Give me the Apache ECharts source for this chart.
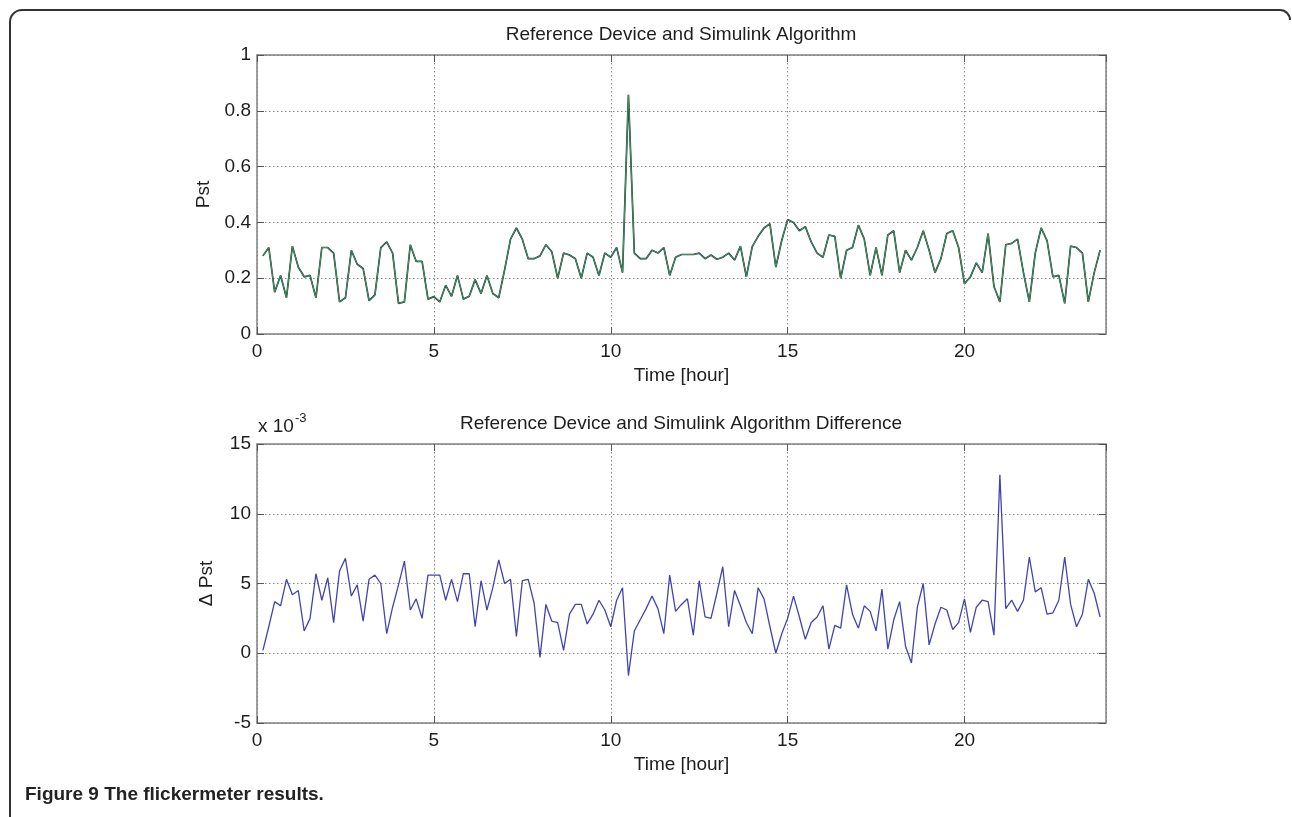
<!DOCTYPE html>
<html>
<head>
<meta charset="utf-8">
<title>The flickermeter results</title>
<script src="https://cdn.jsdelivr.net/npm/echarts@6/dist/echarts.min.js"></script>
<style>
  html, body { margin: 0; padding: 0; background: #fff; }
  #chart { width: 1292px; height: 817px; }
</style>
</head>
<body>
<div id="chart"></div>
<script>
// one sample every 10 minutes, first one at 0:10
const sampleHours = 1 / 6

// Pst over the day (reference device / simulink algorithm overlap at this scale)
const pstValues = [
    0.28, 0.31, 0.15, 0.21, 0.13, 0.315, 0.24, 0.205, 0.21, 0.13,
    0.31, 0.31, 0.29, 0.115, 0.13, 0.30, 0.25, 0.235, 0.12, 0.14,
    0.31, 0.33, 0.29, 0.11, 0.115, 0.32, 0.26, 0.26, 0.125, 0.134,
    0.115, 0.175, 0.135, 0.21, 0.125, 0.135, 0.195, 0.145, 0.21, 0.145,
    0.13, 0.23, 0.34, 0.38, 0.34, 0.27, 0.27, 0.28, 0.32, 0.295,
    0.20, 0.29, 0.283, 0.27, 0.20, 0.29, 0.275, 0.21, 0.29, 0.275,
    0.31, 0.22, 0.857, 0.29, 0.27, 0.27, 0.30, 0.29, 0.31, 0.21,
    0.275, 0.285, 0.285, 0.285, 0.29, 0.27, 0.283, 0.268, 0.275, 0.29,
    0.265, 0.315, 0.205, 0.313, 0.35, 0.38, 0.395, 0.24, 0.335, 0.41,
    0.40, 0.37, 0.385, 0.33, 0.29, 0.275, 0.355, 0.35, 0.20, 0.30,
    0.31, 0.39, 0.34, 0.21, 0.31, 0.21, 0.355, 0.37, 0.22, 0.30,
    0.265, 0.31, 0.37, 0.30, 0.22, 0.27, 0.36, 0.37, 0.31, 0.18,
    0.205, 0.255, 0.22, 0.36, 0.17, 0.115, 0.32, 0.325, 0.34, 0.22,
    0.115, 0.29, 0.38, 0.335, 0.205, 0.21, 0.11, 0.315, 0.31, 0.29,
    0.115, 0.22, 0.30,
]

// difference between the two, in units of 1e-3
const pstDiff = [
    0.2, 1.9, 3.7, 3.4, 5.3, 4.2, 4.5, 1.6, 2.5, 5.7,
    3.8, 5.4, 2.2, 5.9, 6.8, 4.1, 4.9, 2.3, 5.3, 5.6,
    5.0, 1.4, 3.3, 4.9, 6.6, 3.1, 3.9, 2.5, 5.6, 5.6,
    5.6, 3.8, 5.3, 3.7, 5.7, 5.7, 1.9, 5.2, 3.1, 4.7,
    6.7, 5.0, 5.3, 1.2, 5.2, 5.3, 3.6, -0.3, 3.5, 2.3,
    2.2, 0.2, 2.8, 3.5, 3.5, 2.1, 2.8, 3.8, 3.1, 1.9,
    3.8, 4.7, -1.6, 1.6, 2.4, 3.2, 4.1, 3.2, 1.4, 5.6,
    3.0, 3.5, 3.9, 1.3, 5.2, 2.6, 2.5, 4.3, 6.2, 1.9,
    4.5, 3.4, 2.2, 1.4, 4.7, 3.9, 1.9, 0.0, 1.4, 2.5,
    4.1, 2.6, 1.0, 2.2, 2.6, 3.4, 0.3, 2.0, 1.8, 4.9,
    2.8, 1.8, 3.4, 3.0, 1.6, 4.6, 0.3, 2.4, 3.7, 0.5,
    -0.7, 3.3, 5.0, 0.6, 2.1, 3.3, 3.1, 1.7, 2.2, 3.9,
    1.5, 3.3, 3.8, 3.7, 1.3, 12.8, 3.2, 3.8, 3.0, 3.8,
    6.9, 4.4, 4.7, 2.8, 2.9, 3.8, 6.9, 3.5, 1.9, 2.8,
    5.3, 4.3, 2.6,
]

const hourRange = [0, 24, 5]
const pstRange = [0, 1, 0.2]
const diffRange = [-5, 15, 5]

const times = pstValues.map((_, i) => +((i + 1) * sampleHours).toFixed(4))

const FONT = '"Liberation Sans", Arial, Helvetica, sans-serif'
const TEXT = '#1e1e1e'
const BOX = '#808080'

const gridLine = {
    show: true,
    lineStyle: { color: '#8a8a8a', type: [1.5, 2.5], width: 1 },
}

const xAxes = (gridIndex) => [
    {
        type: 'value',
        gridIndex,
        position: 'bottom',
        min: hourRange[0],
        max: hourRange[1],
        interval: hourRange[2],
        name: 'Time [hour]',
        nameLocation: 'middle',
        nameGap: 32,
        nameTextStyle: { fontFamily: FONT, fontSize: 19, color: TEXT },
        axisLine: { show: true, onZero: false, lineStyle: { color: BOX, width: 1.5 } },
        axisTick: { show: true, inside: true, length: 7, lineStyle: { color: '#555' } },
        axisLabel: { fontFamily: FONT, fontSize: 19, color: TEXT, margin: 8, showMaxLabel: false },
        splitLine: gridLine,
    },
    {
        type: 'value',
        gridIndex,
        position: 'top',
        min: hourRange[0],
        max: hourRange[1],
        interval: hourRange[2],
        axisLine: { show: true, onZero: false, lineStyle: { color: BOX, width: 1.5 } },
        axisTick: { show: true, inside: true, length: 7, lineStyle: { color: '#555' } },
        axisLabel: { show: false },
        splitLine: { show: false },
    },
]

const yAxes = (gridIndex, range, name) => [
    {
        type: 'value',
        gridIndex,
        position: 'left',
        min: range[0],
        max: range[1],
        interval: range[2],
        name,
        nameLocation: 'middle',
        nameGap: 41,
        nameTextStyle: { fontFamily: FONT, fontSize: 19, color: TEXT },
        axisLine: { show: true, onZero: false, lineStyle: { color: BOX, width: 1.5 } },
        axisTick: { show: true, inside: true, length: 7, lineStyle: { color: '#555' } },
        axisLabel: { fontFamily: FONT, fontSize: 19, color: TEXT, margin: 6 },
        splitLine: gridLine,
    },
    {
        type: 'value',
        gridIndex,
        position: 'right',
        min: range[0],
        max: range[1],
        interval: range[2],
        axisLine: { show: true, onZero: false, lineStyle: { color: BOX, width: 1.5 } },
        axisTick: { show: true, inside: true, length: 7, lineStyle: { color: '#555' } },
        axisLabel: { show: false },
        splitLine: { show: false },
    },
]

const titleStyle = { fontFamily: FONT, fontSize: 19, fontWeight: 'normal', color: TEXT }

const chart = echarts.init(document.getElementById('chart'))

chart.setOption({
    animation: false,
    backgroundColor: '#fff',
    title: [
        {
            text: 'Reference Device and Simulink Algorithm',
            left: 681,
            top: 25,
            padding: 0,
            textAlign: 'center',
            textStyle: titleStyle,
        },
        {
            text: 'Reference Device and Simulink Algorithm Difference',
            left: 681,
            top: 414,
            padding: 0,
            textAlign: 'center',
            textStyle: titleStyle,
        },
    ],
    grid: [
        { left: 257, top: 55, width: 849, height: 279 },
        { left: 257, top: 444, width: 849, height: 279 },
    ],
    xAxis: [...xAxes(0), ...xAxes(1)],
    yAxis: [...yAxes(0, pstRange, 'Pst'), ...yAxes(1, diffRange, '\u0394 Pst')],
    series: [
        {
            name: 'Reference Device',
            type: 'line',
            xAxisIndex: 0,
            yAxisIndex: 0,
            showSymbol: false,
            data: times.map((t, i) => [t, pstValues[i]]),
            lineStyle: { color: '#233052', width: 1.7 },
        },
        {
            name: 'Simulink Algorithm',
            type: 'line',
            xAxisIndex: 0,
            yAxisIndex: 0,
            showSymbol: false,
            data: times.map((t, i) => [t, pstValues[i]]),
            lineStyle: { color: '#3f9a4c', width: 1 },
        },
        {
            name: 'Difference',
            type: 'line',
            xAxisIndex: 2,
            yAxisIndex: 2,
            showSymbol: false,
            data: times.map((t, i) => [t, pstDiff[i]]),
            lineStyle: { color: '#4343ad', width: 1.3 },
        },
    ],
    graphic: [
        // page frame: rounded top corners, open at the right below the corner
        { type: 'line', shape: { x1: 10, y1: 22, x2: 10, y2: 817 }, style: { stroke: '#333', lineWidth: 2 } },
        { type: 'arc', shape: { cx: 22, cy: 22, r: 12, startAngle: Math.PI, endAngle: Math.PI * 1.5 }, style: { stroke: '#333', lineWidth: 2, fill: null } },
        { type: 'line', shape: { x1: 22, y1: 10, x2: 1280, y2: 10 }, style: { stroke: '#333', lineWidth: 2 } },
        { type: 'arc', shape: { cx: 1280, cy: 20, r: 10, startAngle: Math.PI * 1.5, endAngle: Math.PI * 2 }, style: { stroke: '#333', lineWidth: 2, fill: null } },
        // exponent note of the lower axis
        { type: 'text', left: 258, top: 417, style: { text: 'x 10', font: '19px ' + FONT, fill: TEXT } },
        { type: 'text', left: 295, top: 412, style: { text: '-3', font: '13px ' + FONT, fill: TEXT } },
        // figure caption
        { type: 'text', left: 25, top: 785, style: { text: 'Figure 9 The flickermeter results.', font: 'bold 19px ' + FONT, fill: '#222' } },
    ],
})
</script>
</body>
</html>
